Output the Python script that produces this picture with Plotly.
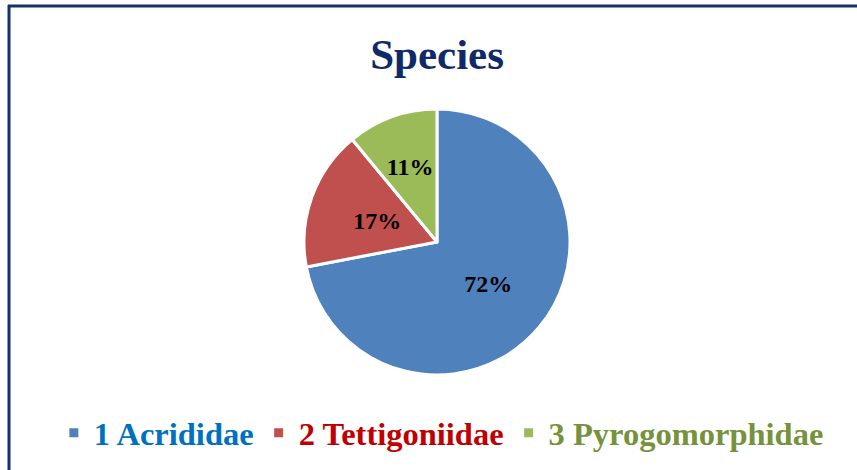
import plotly.graph_objects as go

W, H = 857, 470

families = ["1 Acrididae", "2 Tettigoniidae", "3 Pyrogomorphidae"]
shares = [72, 17, 11]
slice_colors = ["#4F81BD", "#C0504D", "#9BBB59"]
legend_colors = ["#0070C0", "#C00000", "#76923C"]

labels = ["<span style='color:%s'><b>%s</b></span>" % (c, f)
          for f, c in zip(families, legend_colors)]

# pie geometry (pixels)
cx, cy, r = 437, 242, 133
pct = "<b>%{percent:.0%}</b>"


def dom(rad):
    return dict(x=[(cx - rad) / W, (cx + rad) / W], y=[1 - (cy + rad) / H, 1 - (cy - rad) / H])


def label_pie(scale, show):
    # invisible copy of the pie, only used to place some percent labels
    return go.Pie(
        labels=labels, values=shares, sort=False, direction="clockwise", rotation=0,
        marker=dict(colors=["rgba(0,0,0,0)"] * 3, line=dict(width=0)),
        texttemplate=[pct if s else "" for s in show],
        textposition="inside", insidetextorientation="horizontal",
        textfont=dict(family="Liberation Serif", size=24, color="black"),
        showlegend=False, hoverinfo="skip", domain=dom(r * scale),
    )


fig = go.Figure()
fig.add_trace(go.Pie(
    labels=labels,
    values=shares,
    sort=False,
    direction="clockwise",
    rotation=0,
    marker=dict(colors=slice_colors, line=dict(color="white", width=3)),
    texttemplate=[pct, "", ""],
    textposition="inside",
    insidetextorientation="horizontal",
    textfont=dict(family="Liberation Serif", size=24, color="black"),
    domain=dom(r),
))
fig.add_trace(label_pie(0.72, [False, True, False]))
fig.add_trace(label_pie(0.8, [False, False, True]))

fig.update_layout(
    width=W, height=H,
    margin=dict(l=0, r=0, t=0, b=0),
    paper_bgcolor="white",
    font=dict(family="Liberation Serif"),
    title=dict(text="<b>Species</b>", x=0.51, xanchor="center", y=1 - 54 / H, yanchor="middle",
               font=dict(family="Liberation Serif", size=43, color="#0F2A66")),
    legend=dict(orientation="h", x=0.515, xanchor="center", y=1 - 433 / H, yanchor="middle",
                font=dict(family="Liberation Serif", size=32.5), itemwidth=30,
                traceorder="normal"),
    shapes=[
        dict(type="line", xref="paper", yref="paper", x0=8 / W, x1=1, y0=1 - 6 / H, y1=1 - 6 / H,
             line=dict(color="#17326B", width=3)),
        dict(type="line", xref="paper", yref="paper", x0=9 / W, x1=9 / W, y0=0, y1=1 - 5 / H,
             line=dict(color="#17326B", width=3)),
    ],
)

fig.write_html("out.html", config={"displayModeBar": False},
               post_script="document.body.style.margin='0';")
